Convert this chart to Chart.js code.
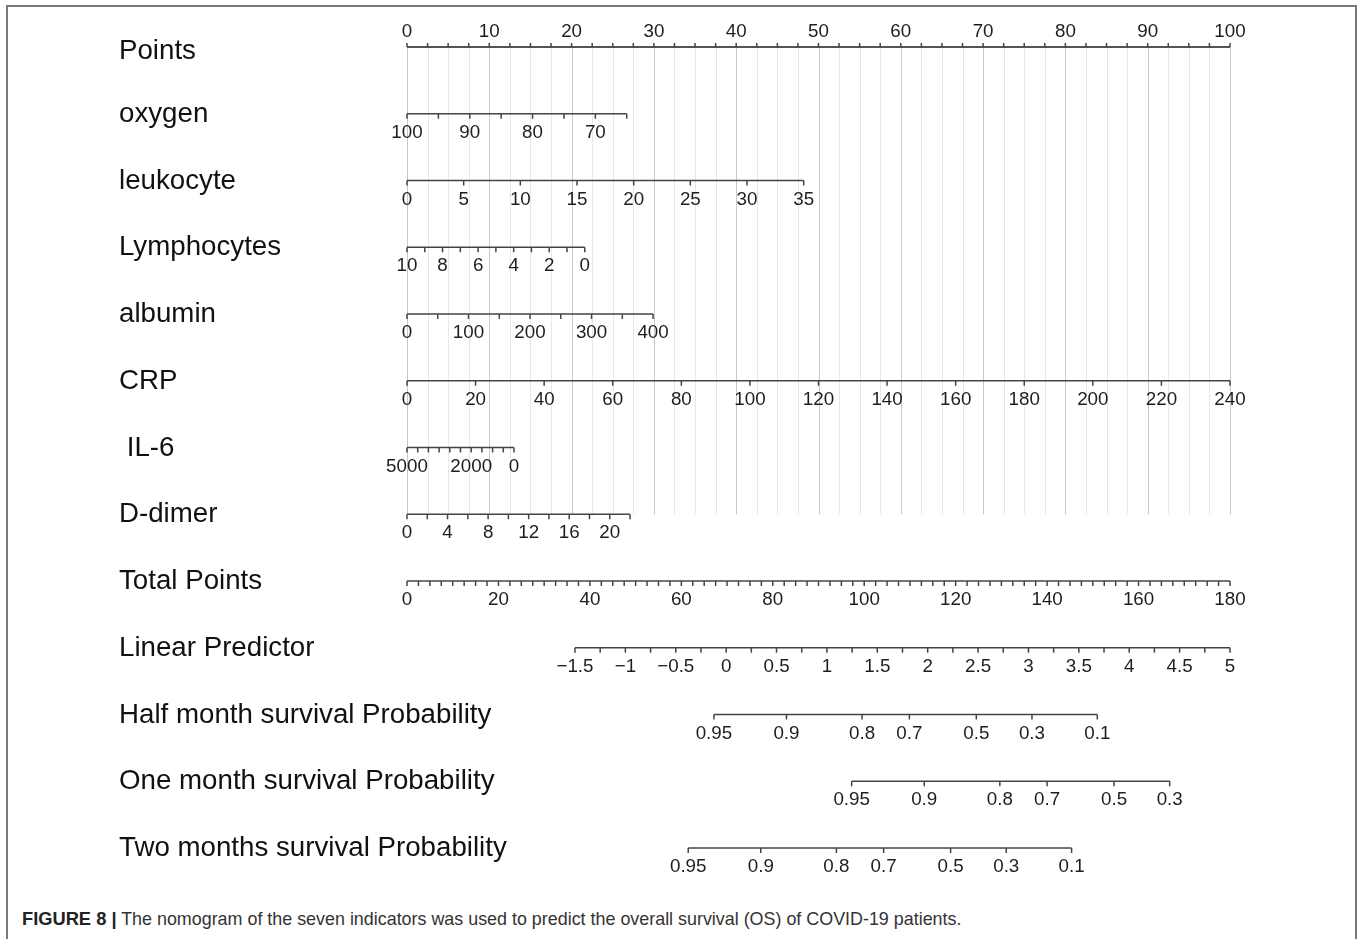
<!DOCTYPE html>
<html>
<head>
<meta charset="utf-8">
<title>Nomogram</title>
<script src="https://cdn.jsdelivr.net/npm/chart.js@4.4.1/dist/chart.umd.min.js"></script>
<style>
    html, body { margin: 0; padding: 0; background: #fff; }
    body { width: 1360px; height: 939px; position: relative; overflow: hidden; }
    #frame {
        position: absolute; left: 6px; top: 5px; width: 1351px; height: 940px;
        border: 2px solid #7a7a7a; border-bottom: none; box-sizing: border-box;
    }
    #nomo { position: absolute; left: 0; top: 0; }
    .caption {
        position: absolute; left: 22px; top: 909px; line-height: 20px;
        font-family: "Liberation Sans", Arial, sans-serif; font-size: 17.9px; color: #333;
        white-space: nowrap;
    }
    .caption b { font-size: 18.3px; color: #222; }
</style>
</head>
<body>
<div id="frame"></div>
<canvas id="nomo" width="1360" height="900"></canvas>
<div class="caption"><b>FIGURE 8 |</b> The nomogram of the seven indicators was used to predict the overall survival (OS) of COVID-19 patients.</div>

<script>
// row names, top to bottom
const rowNames = ["Points", "oxygen", "leukocyte", "Lymphocytes", "albumin", "CRP", " IL-6", "D-dimer",
    "Total Points", "Linear Predictor", "Half month survival Probability",
    "One month survival Probability", "Two months survival Probability"];

// points scale on top
const pointsLabels = [0, 10, 20, 30, 40, 50, 60, 70, 80, 90, 100];
const pointsStep = 2.5;

// predictor scales: tick values, labelled values, points reached at first / last tick
const oxygenTicks = [100, 95, 90, 85, 80, 75, 70, 65];
const oxygenLabels = [100, 90, 80, 70];
const oxygenPoints = [0, 26.7];

const leukocyteTicks = [0, 5, 10, 15, 20, 25, 30, 35];
const leukocyteLabels = [0, 5, 10, 15, 20, 25, 30, 35];
const leukocytePoints = [0, 48.2];

const lymphoTicks = [10, 9, 8, 7, 6, 5, 4, 3, 2, 1, 0];
const lymphoLabels = [10, 8, 6, 4, 2, 0];
const lymphoPoints = [0, 21.6];

const albuminTicks = [0, 50, 100, 150, 200, 250, 300, 350, 400];
const albuminLabels = [0, 100, 200, 300, 400];
const albuminPoints = [0, 29.9];

const crpTicks = [0, 20, 40, 60, 80, 100, 120, 140, 160, 180, 200, 220, 240];
const crpLabels = [0, 20, 40, 60, 80, 100, 120, 140, 160, 180, 200, 220, 240];
const crpPoints = [0, 100];

const il6Ticks = [5000, 4500, 4000, 3500, 3000, 2500, 2000, 1500, 1000, 500, 0];
const il6Labels = [5000, 2000, 0];
const il6Points = [0, 13.0];

const ddimerTicks = [0, 2, 4, 6, 8, 10, 12, 14, 16, 18, 20, 22];
const ddimerLabels = [0, 4, 8, 12, 16, 20];
const ddimerPoints = [0, 27.1];

// total points and linear predictor
const totalMax = 180;
const totalLabels = [0, 20, 40, 60, 80, 100, 120, 140, 160, 180];
const totalStep = 2.5;

const lpLabels = [-1.5, -1, -0.5, 0, 0.5, 1, 1.5, 2, 2.5, 3, 3.5, 4, 4.5, 5];
const lpStep = 0.25;
const lpTotalPoints = [36.74, 180]; // total points at lp -1.5 and lp 5

// survival probabilities; lp = ln(-ln p) + offset
const halfMonthProbs = [0.95, 0.9, 0.8, 0.7, 0.5, 0.3, 0.1];
const oneMonthProbs = [0.95, 0.9, 0.8, 0.7, 0.5, 0.3];
const twoMonthProbs = [0.95, 0.9, 0.8, 0.7, 0.5, 0.3, 0.1];
const survivalOffsets = [2.849, 4.216, 2.594];

function steps(a, b, s) {
    const out = [];
    const n = Math.round((b - a) / s);
    for (let i = 0; i <= n; i++) out.push(a + i * s);
    return out;
}

function linearRow(ticks, labels, pts) {
    const t0 = ticks[0], t1 = ticks[ticks.length - 1];
    const toPts = (v) => pts[0] + (v - t0) / (t1 - t0) * (pts[1] - pts[0]);
    return {
        ticks: ticks.map(toPts),
        labels: labels.map((v) => ({ x: toPts(v), text: String(v) })),
    };
}

const totalToPts = (tp) => tp / totalMax * 100;
const lpToPts = (lp) => totalToPts(lpTotalPoints[0] + (lp + 1.5) / 6.5 * (lpTotalPoints[1] - lpTotalPoints[0]));
const fmt = (v) => (v < 0 ? "\u2212" + Math.abs(v) : String(v));

function survivalRow(probs, offset) {
    const toPts = (p) => lpToPts(Math.log(-Math.log(p)) + offset);
    return {
        ticks: probs.map(toPts),
        labels: probs.map((p) => ({ x: toPts(p), text: String(p) })),
    };
}

const rows = [
    { ticks: steps(0, 100, pointsStep), labels: pointsLabels.map((v) => ({ x: v, text: String(v) })), top: true },
    linearRow(oxygenTicks, oxygenLabels, oxygenPoints),
    linearRow(leukocyteTicks, leukocyteLabels, leukocytePoints),
    linearRow(lymphoTicks, lymphoLabels, lymphoPoints),
    linearRow(albuminTicks, albuminLabels, albuminPoints),
    linearRow(crpTicks, crpLabels, crpPoints),
    linearRow(il6Ticks, il6Labels, il6Points),
    linearRow(ddimerTicks, ddimerLabels, ddimerPoints),
    {
        ticks: steps(0, totalMax, totalStep).map(totalToPts),
        labels: totalLabels.map((v) => ({ x: totalToPts(v), text: String(v) })),
    },
    {
        ticks: steps(-1.5, 5, lpStep).map(lpToPts),
        labels: lpLabels.map((v) => ({ x: lpToPts(v), text: fmt(v) })),
    },
    survivalRow(halfMonthProbs, survivalOffsets[0]),
    survivalRow(oneMonthProbs, survivalOffsets[1]),
    survivalRow(twoMonthProbs, survivalOffsets[2]),
];

const FONT = '"Liberation Sans", Arial, Helvetica, sans-serif';

const nomogramPlugin = {
    id: "nomogram",
    beforeDatasetsDraw(chart) {
        const { ctx, scales: { x, y } } = chart;
        const yTop = y.getPixelForValue(0);
        const yBottom = y.getPixelForValue(7);
        ctx.save();
        ctx.lineWidth = 1;
        rows[0].ticks.forEach((v) => {
            const px = Math.round(x.getPixelForValue(v)) + 0.5;
            ctx.strokeStyle = v % 10 === 0 ? "#c8c8c8" : "#e8e8e8";
            ctx.beginPath();
            ctx.moveTo(px, yTop);
            ctx.lineTo(px, yBottom);
            ctx.stroke();
        });
        ctx.restore();
    },
    afterDatasetsDraw(chart) {
        const { ctx, scales: { x, y } } = chart;
        ctx.save();
        rows.forEach((row, i) => {
            const py = y.getPixelForValue(i);
            // ticks
            ctx.strokeStyle = "#444";
            ctx.lineWidth = 1.5;
            row.ticks.forEach((v) => {
                const px = x.getPixelForValue(v);
                ctx.beginPath();
                ctx.moveTo(px, py);
                ctx.lineTo(px, row.top ? py - 4 : py + 5);
                ctx.stroke();
            });
            // tick labels
            ctx.fillStyle = "#1e1e1e";
            ctx.font = "18.8px " + FONT;
            ctx.textAlign = "center";
            ctx.textBaseline = "middle";
            row.labels.forEach((l) => {
                ctx.fillText(l.text, x.getPixelForValue(l.x), row.top ? py - 15 : py + 19);
            });
            // row name
            ctx.font = "27.7px " + FONT;
            ctx.textAlign = "left";
            ctx.fillStyle = "#111";
            ctx.fillText(rowNames[i], 119, row.top ? py + 4 : py + 0.5);
        });
        ctx.restore();
    },
};

const datasets = rows.map((row, i) => ({
    data: [
        { x: Math.min(...row.ticks), y: i },
        { x: Math.max(...row.ticks), y: i },
    ],
    borderColor: i === 0 ? "#555" : "#444",
    borderWidth: i === 0 ? 2 : 1.5,
    pointRadius: 0,
    showLine: true,
    clip: false,
}));

new Chart(document.getElementById("nomo").getContext("2d"), {
    type: "scatter",
    data: { datasets },
    options: {
        responsive: false,
        animation: false,
        layout: { padding: { left: 407, right: 130, top: 47, bottom: 52 } },
        scales: {
            x: { type: "linear", min: 0, max: 100, display: false },
            y: { type: "linear", min: 0, max: 12, reverse: true, display: false },
        },
        plugins: { legend: { display: false }, tooltip: { enabled: false } },
    },
    plugins: [nomogramPlugin],
});
</script>
</body>
</html>
